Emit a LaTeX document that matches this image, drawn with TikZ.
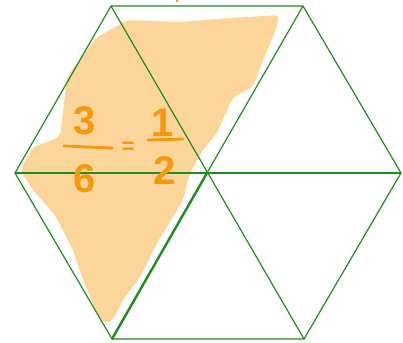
\documentclass[tikz,border=0pt]{standalone}
\usepackage{fontspec}
\setmainfont{Liberation Sans}
\definecolor{hexgreen}{RGB}{30,140,30}
\definecolor{halforange}{RGB}{251,213,153}
\definecolor{pen}{RGB}{246,152,12}
\begin{document}
\begin{tikzpicture}[x=1pt,y=-1pt,
	edge/.style={hexgreen, line width=1.2pt},
	digit/.style={pen, font=\fontsize{40}{40}\selectfont, inner sep=0pt},
	bar/.style={pen, line width=2.8pt, line cap=round}]
	\useasboundingbox (0,0) rectangle (403,342);
	% shaded half
	\fill[halforange, rounded corners=5pt] (128,20) -- (180,22) -- (230,18) -- (280,15) -- (273,37) -- (263,60)
		-- (253,87) -- (233,97) -- (217,133) -- (203,150) -- (190,173) -- (183,200) -- (173,217)
		-- (157,243) -- (140,277) -- (123,300) -- (113,320) -- (105,324) -- (98,316) -- (83,280)
		-- (73,250) -- (55,215) -- (33,190) -- (20,170) -- (33,147) -- (60,137) -- (67,77)
		-- (97,37) -- cycle;
	\fill[pen] (177,1) circle (1.5);
	% hexagon
	\coordinate (L) at (15,173);
	\coordinate (TL) at (111,6);
	\coordinate (TR) at (303,6);
	\coordinate (R) at (401,173);
	\coordinate (BR) at (304,339);
	\coordinate (BL) at (112,339);
	\coordinate (C) at (207,173);
	\draw[edge] (L) -- (TL) -- (TR) -- (R) -- (BR) -- (BL) -- cycle;
	\draw[edge] (L) -- (R);
	\draw[edge] (TL) -- (BR);
	\draw[edge] (TR) -- (C);
	\draw[edge, line width=2.4pt] (C) -- (BL);
	% fraction
	\node[digit] (n3) at (85,121) {\bfseries 3};
	\node[digit] (d6) at (85,179) {\bfseries 6};
	\draw[bar] (64,146) -- (112,148);
	\node[pen, font=\fontsize{22}{22}\selectfont\bfseries, inner sep=0pt] (eq) at (128,148) {=};
	\node[digit] (n1) at (163,123) {\bfseries 1};
	\node[digit] (d2) at (165,171) {\bfseries 2};
	\draw[bar] (148,140) -- (183,139);
\end{tikzpicture}
\end{document}
